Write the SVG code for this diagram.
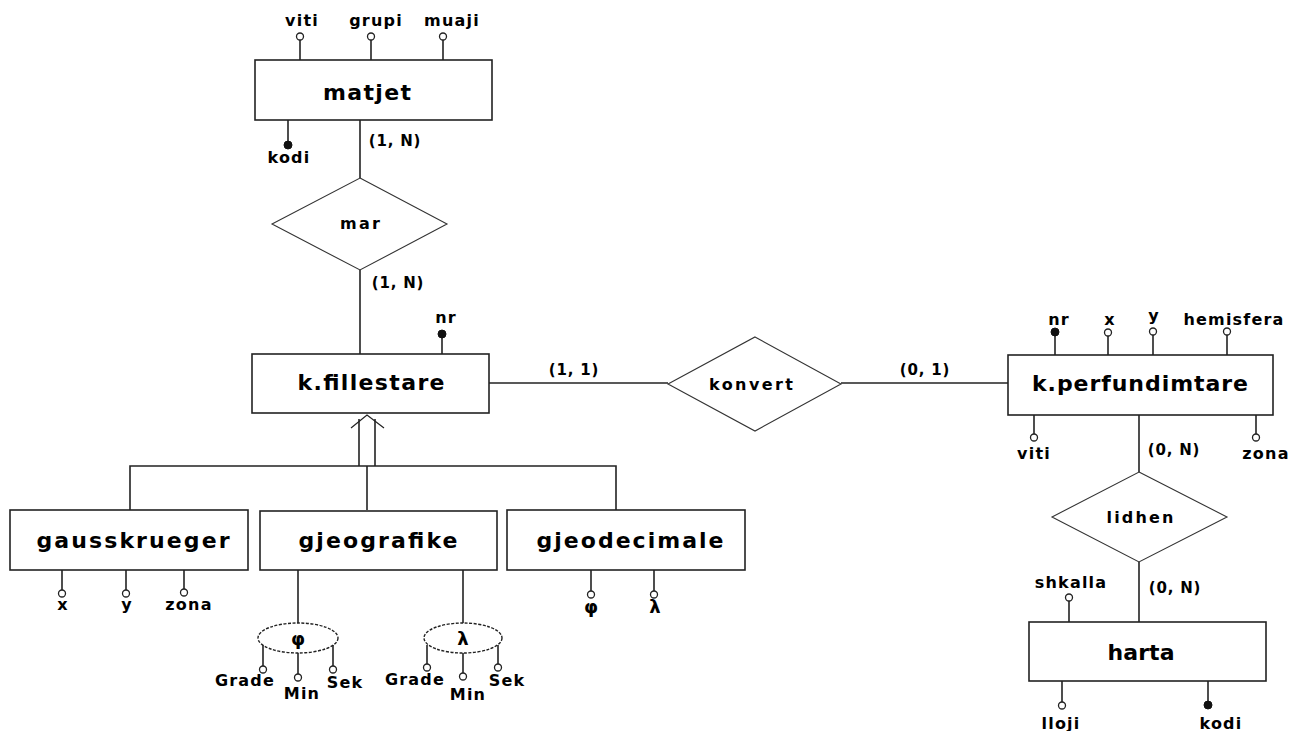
<svg xmlns="http://www.w3.org/2000/svg" width="1292" height="731" viewBox="0 0 1292 731">
<style>
.box{fill:#fff;stroke:#222;stroke-width:1.6}
.dia{fill:#fff;stroke:#333;stroke-width:1.1}
.ln{fill:none;stroke:#222;stroke-width:1.6}
.ho{fill:#fff;stroke:#222;stroke-width:1.3}
.fi{fill:#111;stroke:#111;stroke-width:1}
.ell{fill:#fff;stroke:#222;stroke-width:1.4;stroke-dasharray:3 1.5}
text{font-family:"DejaVu Sans","Verdana",sans-serif;font-weight:bold;fill:#000;text-anchor:middle}
.nm{font-size:22px}
.rl{font-size:16px}
.at{font-size:16px;letter-spacing:1.2px}
.gk{font-size:18px}
.cd{font-size:15px;letter-spacing:0.8px}
</style>
<rect width="1292" height="731" fill="#fff"/>
<g id="connectors">
<line class="ln" x1="360" y1="120" x2="360" y2="178"/>
<line class="ln" x1="360" y1="270" x2="360" y2="354"/>
<line class="ln" x1="489" y1="383" x2="668" y2="383"/>
<line class="ln" x1="841" y1="383" x2="1008" y2="383"/>
<line class="ln" x1="1139" y1="415" x2="1139" y2="472"/>
<line class="ln" x1="1139" y1="562" x2="1139" y2="622"/>
<polyline class="ln" points="130,510 130,466 616,466 616,510"/>
<line class="ln" x1="367" y1="466" x2="367" y2="510"/>
<line class="ln" x1="359" y1="466" x2="359" y2="419"/>
<line class="ln" x1="375" y1="466" x2="375" y2="419"/>
<polyline fill="none" stroke="#222" stroke-width="1.2" points="351,428 367,415 384,428"/>
<text class="cd" x="395" y="146">(1, N)</text>
<text class="cd" x="398" y="288">(1, N)</text>
<text class="cd" x="574" y="375">(1, 1)</text>
<text class="cd" x="925" y="375">(0, 1)</text>
<text class="cd" x="1174" y="455">(0, N)</text>
<text class="cd" x="1175" y="593">(0, N)</text>
</g>
<g id="matjet">
<rect class="box" x="255" y="60" width="237" height="60"/>
<text class="nm" x="367" y="100" textLength="88" lengthAdjust="spacing">matjet</text>
<line class="ln" x1="300" y1="60" x2="300" y2="40"/><circle class="ho" cx="300" cy="36.5" r="3.5"/>
<line class="ln" x1="371" y1="60" x2="371" y2="40"/><circle class="ho" cx="371" cy="36.5" r="3.5"/>
<line class="ln" x1="443" y1="60" x2="443" y2="40"/><circle class="ho" cx="443" cy="36.5" r="3.5"/>
<line class="ln" x1="288" y1="120" x2="288" y2="142"/><circle class="fi" cx="288" cy="145" r="4"/>
<text class="at" x="302" y="26">viti</text>
<text class="at" x="376" y="26">grupi</text>
<text class="at" x="452" y="26">muaji</text>
<text class="at" x="289" y="163">kodi</text>
</g>
<g id="mar">
<polygon class="dia" points="360,178 447,224 360,270 272,224"/>
<text class="rl" x="360" y="229" textLength="40" lengthAdjust="spacing">mar</text>
</g>
<g id="k-fillestare">
<rect class="box" x="252" y="354" width="237" height="59"/>
<text class="nm" x="371" y="390" textLength="147" lengthAdjust="spacing">k.fillestare</text>
<line class="ln" x1="442" y1="354" x2="442" y2="337"/><circle class="fi" cx="442" cy="334" r="4"/>
<text class="at" x="446" y="323">nr</text>
</g>
<g id="konvert">
<polygon class="dia" points="755,337 841,384 755,431 668,384"/>
<text class="rl" x="751" y="390" textLength="84" lengthAdjust="spacing">konvert</text>
</g>
<g id="k-perfundimtare">
<rect class="box" x="1008" y="355" width="265" height="60"/>
<text class="nm" x="1140" y="391" textLength="216" lengthAdjust="spacing">k.perfundimtare</text>
<line class="ln" x1="1055" y1="355" x2="1055" y2="335"/><circle class="fi" cx="1055" cy="332" r="4"/>
<line class="ln" x1="1108" y1="355" x2="1108" y2="336"/><circle class="ho" cx="1108" cy="332.5" r="3.5"/>
<line class="ln" x1="1153" y1="355" x2="1153" y2="335"/><circle class="ho" cx="1153" cy="331.5" r="3.5"/>
<line class="ln" x1="1227" y1="355" x2="1227" y2="335"/><circle class="ho" cx="1227" cy="331.5" r="3.5"/>
<line class="ln" x1="1034" y1="415" x2="1034" y2="434"/><circle class="ho" cx="1034" cy="437.5" r="3.5"/>
<line class="ln" x1="1256" y1="415" x2="1256" y2="434"/><circle class="ho" cx="1256" cy="437.5" r="3.5"/>
<text class="at" x="1059" y="325">nr</text>
<text class="at" x="1110" y="325">x</text>
<text class="at" x="1154" y="321">y</text>
<text class="at" x="1234" y="325">hemisfera</text>
<text class="at" x="1034" y="459">viti</text>
<text class="at" x="1266" y="459">zona</text>
</g>
<g id="lidhen">
<polygon class="dia" points="1139,472 1227,517 1139,562 1052,517"/>
<text class="rl" x="1140" y="523" textLength="67" lengthAdjust="spacing">lidhen</text>
</g>
<g id="harta">
<rect class="box" x="1029" y="622" width="237" height="59"/>
<text class="nm" x="1141" y="660" textLength="67" lengthAdjust="spacing">harta</text>
<line class="ln" x1="1069" y1="622" x2="1069" y2="601"/><circle class="ho" cx="1069" cy="597.5" r="3.5"/>
<line class="ln" x1="1062" y1="681" x2="1062" y2="702"/><circle class="ho" cx="1062" cy="705.5" r="3.5"/>
<line class="ln" x1="1208" y1="681" x2="1208" y2="702"/><circle class="fi" cx="1208" cy="705" r="4"/>
<text class="at" x="1071" y="588">shkalla</text>
<text class="at" x="1061" y="729">lloji</text>
<text class="at" x="1221" y="729">kodi</text>
</g>
<g id="gausskrueger">
<rect class="box" x="10" y="510" width="238" height="60"/>
<text class="nm" x="133" y="548" textLength="193" lengthAdjust="spacing">gausskrueger</text>
<line class="ln" x1="62" y1="570" x2="62" y2="590"/><circle class="ho" cx="62" cy="593.5" r="3.5"/>
<line class="ln" x1="126" y1="570" x2="126" y2="590"/><circle class="ho" cx="126" cy="593.5" r="3.5"/>
<line class="ln" x1="184" y1="570" x2="184" y2="589"/><circle class="ho" cx="184" cy="592.5" r="3.5"/>
<text class="at" x="63" y="610">x</text>
<text class="at" x="127" y="610">y</text>
<text class="at" x="189" y="610">zona</text>
</g>
<g id="gjeografike">
<rect class="box" x="260" y="511" width="237" height="59"/>
<text class="nm" x="378" y="548" textLength="159" lengthAdjust="spacing">gjeografike</text>
<line class="ln" x1="298" y1="570" x2="298" y2="623"/>
<line class="ln" x1="463" y1="570" x2="463" y2="623"/>
</g>
<g id="phi">
<ellipse class="ell" cx="298" cy="638" rx="40" ry="15"/>
<text class="gk" x="298" y="645">φ</text>
<line class="ln" x1="263" y1="645" x2="263" y2="666"/><circle class="ho" cx="263" cy="669.5" r="3.5"/>
<line class="ln" x1="298" y1="653" x2="298" y2="674"/><circle class="ho" cx="298" cy="677.5" r="3.5"/>
<line class="ln" x1="333" y1="645" x2="333" y2="666"/><circle class="ho" cx="333" cy="669.5" r="3.5"/>
<text class="at" x="245" y="686">Grade</text>
<text class="at" x="302" y="699">Min</text>
<text class="at" x="345" y="688">Sek</text>
</g>
<g id="lambda">
<ellipse class="ell" cx="463" cy="638" rx="39" ry="15"/>
<text class="gk" x="463" y="645">λ</text>
<line class="ln" x1="427" y1="645" x2="427" y2="664"/><circle class="ho" cx="427" cy="667.5" r="3.5"/>
<line class="ln" x1="463" y1="653" x2="463" y2="673"/><circle class="ho" cx="463" cy="676.5" r="3.5"/>
<line class="ln" x1="498" y1="645" x2="498" y2="664"/><circle class="ho" cx="498" cy="667.5" r="3.5"/>
<text class="at" x="415" y="685">Grade</text>
<text class="at" x="468" y="700">Min</text>
<text class="at" x="507" y="686">Sek</text>
</g>
<g id="gjeodecimale">
<rect class="box" x="507" y="510" width="238" height="60"/>
<text class="nm" x="630" y="548" textLength="187" lengthAdjust="spacing">gjeodecimale</text>
<line class="ln" x1="591" y1="570" x2="591" y2="591"/><circle class="ho" cx="591" cy="594.5" r="3.5"/>
<line class="ln" x1="654" y1="570" x2="654" y2="591"/><circle class="ho" cx="654" cy="594.5" r="3.5"/>
<text class="gk" x="591" y="613">φ</text>
<text class="gk" x="655" y="613">λ</text>
</g>
</svg>
